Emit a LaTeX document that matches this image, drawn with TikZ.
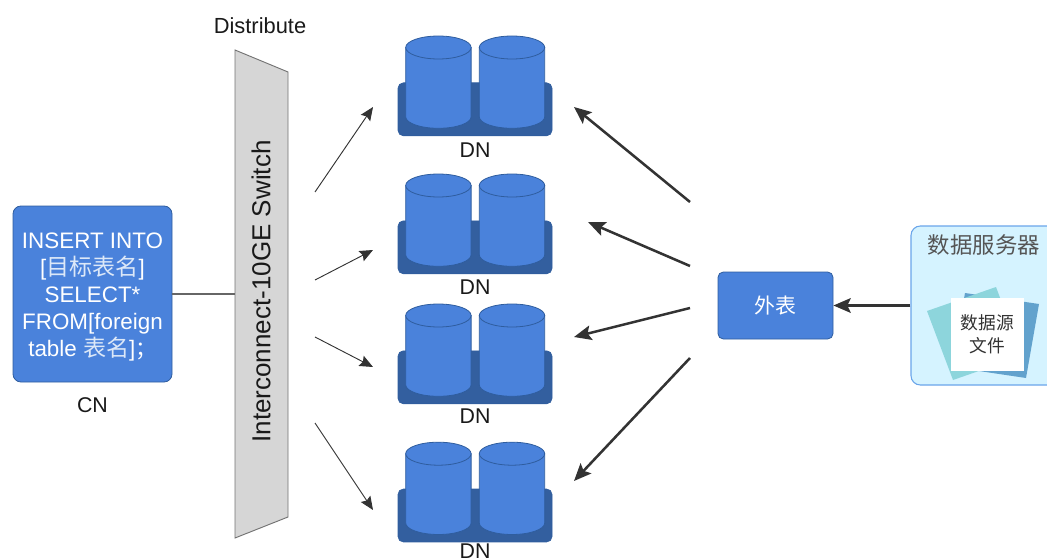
\documentclass[tikz,border=0pt]{standalone}
\usepackage{fontspec}
\setmainfont{Liberation Sans}
\newfontfamily\cjk{Noto Sans CJK SC}[Scale=0.95]
\newfontfamily\cjkb{Noto Sans CJK SC}[Scale=1.03]
\usetikzlibrary{arrows.meta}
\definecolor{dnblue}{HTML}{4A82DB}
\definecolor{dnedge}{HTML}{2F5D9E}
\definecolor{dnbase}{HTML}{335F9F}
\definecolor{srvfill}{HTML}{D5F3FF}
\definecolor{srvedge}{HTML}{6AA5EA}
\definecolor{paperteal}{HTML}{8DD5DC}
\definecolor{paperblue}{HTML}{62A2CD}
\definecolor{cjkgray}{HTML}{555555}
\definecolor{cjklight}{HTML}{DCE8F8}
\definecolor{arrowgray}{HTML}{333333}
\tikzset{
  x=0.75pt,y=-0.75pt,
  bluebox/.style={draw=dnedge,fill=dnblue,rounded corners=6pt,line width=0.6pt},
  thinarrow/.style={draw=arrowgray,line width=0.7pt,-{Stealth[length=10pt,width=8.5pt,inset=1.5pt]}},
  thickarrow/.style={draw=arrowgray,line width=1.9pt,-{Stealth[length=13pt,width=11pt,inset=2.5pt]}},
  lbl/.style={font=\fontsize{16}{18}\selectfont,text=black!90,inner sep=0pt},
  cyl/.style={fill=dnblue,draw=dnedge,line width=0.6pt},
}
\newcommand{\onecyl}[2]{%
  \path[cyl] (#1,#2+10.7) -- (#1,#2+80) arc[start angle=180,end angle=0,x radius=32.7,y radius=11.5] -- (#1+65.4,#2+10.7) -- cycle;
  \path[cyl] (#1+32.7,#2+10.7) ellipse[x radius=32.7,y radius=11.5];
}
\newcommand{\dngroup}[3]{%
  \node[draw=dnedge,fill=dnbase,rounded corners=4pt,minimum width=115.5pt,minimum height=39.7pt,inner sep=0pt,line width=0.5pt] (#1) at (475,#2+72.5) {};
  \onecyl{405.7}{#2}
  \onecyl{479.3}{#2}
  \node[lbl] (#1label) at (475,#3) {DN};
}
\begin{document}
\begin{tikzpicture}
\useasboundingbox (0,0) rectangle (1047,560);
% switch
\node[lbl,font=\fontsize{16.4}{18}\selectfont] (dist) at (260,26) {Distribute};
\draw[draw=black!55,fill=black!16,line width=0.7pt] (235,50) -- (288,72) -- (288,517) -- (235,538) -- cycle;
\node[inner sep=0pt,font=\fontsize{19.5}{20}\selectfont,text=black!90,rotate=90] (switch) at (261,291.5) {Interconnect-10GE Switch};
\coordinate (swleft) at (235,294);
% CN
\node[bluebox,minimum width=119.25pt,minimum height=132pt,inner sep=0pt] (cn) at (92.5,294) {};
\node[inner sep=0pt,align=center,text=white,font=\fontsize{16.8}{20.2}\selectfont] (cntext) at (92.5,297)
 {INSERT INTO\\{}[{\cjkb\color{cjklight}目标表名}]\\SELECT*\\FROM[foreign\\table {\cjkb\color{cjklight}表名}]{\cjk ；}};
\node[lbl] (cnlabel) at (92.5,405) {CN};
\draw[draw=black!60,line width=0.8pt] (cn.east |- swleft) -- (swleft);
% DN groups
\dngroup{dna}{36.8}{150}
\dngroup{dnb}{174.8}{287}
\dngroup{dnc}{304.8}{416}
\dngroup{dnd}{443}{551}
% thin arrows
\coordinate (sa) at (315,192); \coordinate (ta) at (373,107);
\coordinate (sb) at (315,280); \coordinate (tb) at (373,250);
\coordinate (sc) at (315,337); \coordinate (tc) at (373,367);
\coordinate (sd) at (315,423); \coordinate (td) at (373,510);
\draw[thinarrow] (sa) -- (ta);
\draw[thinarrow] (sb) -- (tb);
\draw[thinarrow] (sc) -- (tc);
\draw[thinarrow] (sd) -- (td);
% foreign table
\node[bluebox,rounded corners=4pt,minimum width=86.25pt,minimum height=50.25pt,inner sep=0pt,text=white,font=\cjk\fontsize{16.5}{18}\selectfont] (ext) at (775.5,305.5) {外表};
% thick arrows
\coordinate (ua) at (690,202); \coordinate (va) at (574,107);
\coordinate (ub) at (690,266); \coordinate (vb) at (588,222);
\coordinate (uc) at (690,308); \coordinate (vc) at (574,337);
\coordinate (ud) at (690,358); \coordinate (vd) at (574,481);
\draw[thickarrow] (ua) -- (va);
\draw[thickarrow] (ub) -- (vb);
\draw[thickarrow] (uc) -- (vc);
\draw[thickarrow] (ud) -- (vd);
% server
\node[draw=srvedge,fill=srvfill,rounded corners=7pt,line width=0.8pt,minimum width=120pt,minimum height=119.25pt,inner sep=0pt] (server) at (991,305.5) {};
\node[inner sep=0pt,text=cjkgray,font=\cjk\fontsize{17.7}{18}\selectfont] (srvtitle) at (984,245) {数据服务器};
\fill[paperblue] (965,293) -- (1039,304) -- (1026,378) -- (952,367) -- cycle;
\fill[paperteal] (927,311) -- (996,287) -- (1022,356) -- (953,380) -- cycle;
\node[fill=white,minimum width=54.75pt,minimum height=54.75pt,inner sep=0pt,align=center,text=black!80,font=\cjk\fontsize{14}{17.5}\selectfont] (file) at (987.5,334.5) {数据源\\文件};
\draw[thickarrow] (server.west |- ext) -- (ext);
\end{tikzpicture}
\end{document}
